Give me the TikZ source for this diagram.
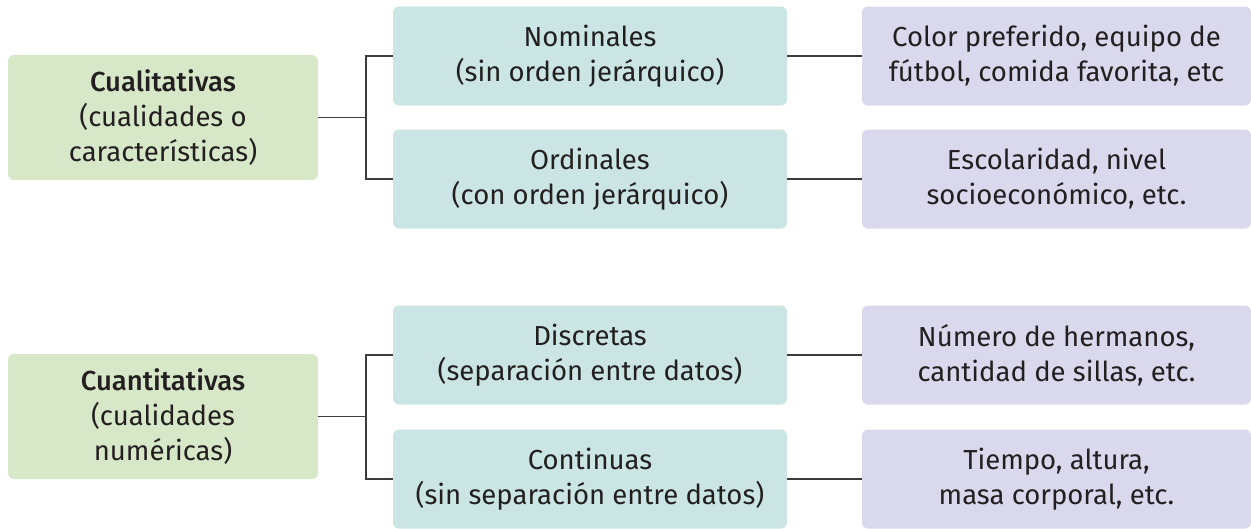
\documentclass[tikz,border=0pt]{standalone}
\usepackage{fontspec}
\setmainfont{Fira Sans}[BoldFont={Fira Sans Medium}]
\usepackage{tikz}
\usetikzlibrary{positioning}
\definecolor{catgreen}{HTML}{D7E8C9}
\definecolor{subteal}{HTML}{CAE5E3}
\definecolor{exlila}{HTML}{DAD8EC}
\definecolor{inkgray}{HTML}{231F20}
\definecolor{linegray}{HTML}{3C3C3C}

\begin{document}
\begin{tikzpicture}[
 x=1pt,y=-1pt,
 box/.style={rounded corners=6pt,align=center,inner sep=0pt,text=inkgray,
   font=\fontsize{27.5}{35}\selectfont},
 cat/.style={box,fill=catgreen,minimum width=310pt,minimum height=125pt},
 sub/.style={box,fill=subteal,minimum width=394pt,minimum height=99pt},
 ej/.style={box,fill=exlila,minimum width=389pt,minimum height=99pt},
 link/.style={draw=linegray,line width=1.3pt}
]
\useasboundingbox (0,0) rectangle (1251,528);
% first group
\node[cat] (cual) at (163,117.5) {\bfseries Cualitativas\\(cualidades o\\características)};
\node[sub] (nom) at (590,56) {Nominales\\(sin orden jerárquico)};
\node[sub] (ord) at (590,179) {Ordinales\\(con orden jerárquico)};
\node[ej] (exnom) at (1056.5,56) {Color preferido, equipo de\\fútbol, comida favorita, etc};
\node[ej] (exord) at (1056.5,179) {Escolaridad, nivel\\socioeconómico, etc.};
\coordinate (j1) at (366,117.5);
\draw[link] (cual.east) -- (j1);
\draw[link] (nom.west) -| (j1) |- (ord.west);
\draw[link] (nom.east) -- (exnom.west);
\draw[link] (ord.east) -- (exord.west);
% second group
\node[cat] (cuan) at (163,416.5) {\bfseries Cuantitativas\\(cualidades\\numéricas)};
\node[sub] (dis) at (590,355) {Discretas\\(separación entre datos)};
\node[sub] (con) at (590,479) {Continuas\\(sin separación entre datos)};
\node[ej] (exdis) at (1056.5,355) {Número de hermanos,\\cantidad de sillas, etc.};
\node[ej] (excon) at (1056.5,479) {Tiempo, altura,\\masa corporal, etc.};
\coordinate (j2) at (366,416.5);
\draw[link] (cuan.east) -- (j2);
\draw[link] (dis.west) -| (j2) |- (con.west);
\draw[link] (dis.east) -- (exdis.west);
\draw[link] (con.east) -- (excon.west);
\end{tikzpicture}
\end{document}
